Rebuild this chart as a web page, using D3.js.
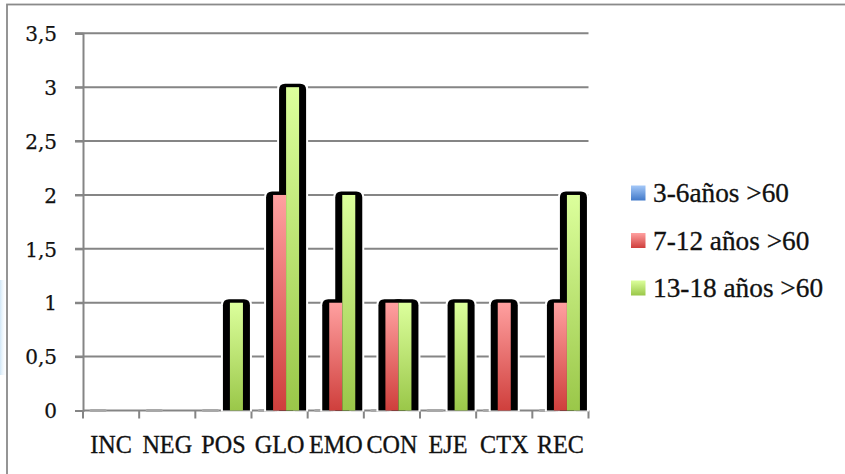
<!DOCTYPE html>
<html>
<head>
<meta charset="utf-8">
<script src="https://cdn.jsdelivr.net/npm/d3@7"></script>
<style>
  html, body { margin: 0; padding: 0; background: #fff; }
  svg { display: block; }
  .serif { font-family: "Liberation Serif", "DejaVu Serif", "Noto Serif", "Tinos", "Times New Roman", serif; }
  .serifwide { font-family: "DejaVu Serif", "Liberation Serif", "Noto Serif", "Tinos", serif; }
</style>
</head>
<body>
<svg id="chart" width="845" height="474"></svg>
<script>
// ---- data ----
const categories = ["INC", "NEG", "POS", "GLO", "EMO", "CON", "EJE", "CTX", "REC"];
const seriesNames = ["3-6años >60", "7-12 años >60", "13-18 años >60"];
const values36 = [0, 0, 0, 0, 0, 0, 0, 0, 0];
const values712 = [null, null, null, 2, 1, 1, null, 1, 1];
const values1318 = [null, null, 1, 3, 2, 1, 1, null, 2];
const yTicks = [0, 0.5, 1, 1.5, 2, 2.5, 3, 3.5];
const yTickLabels = ["0", "0,5", "1", "1,5", "2", "2,5", "3", "3,5"];

const seriesValues = [values36, values712, values1318];
const colors = [
  { top: "#a4c8f8", bottom: "#4179c9" },
  { top: "#ffa0a0", bottom: "#cf3f3c" },
  { top: "#dcff9c", bottom: "#9ac749" }
];

const svg = d3.select("#chart");
const defs = svg.append("defs");
colors.forEach((c, i) => {
  const g = defs.append("linearGradient").attr("id", "grad" + i)
    .attr("x1", 0).attr("y1", 0).attr("x2", 0).attr("y2", 1);
  g.append("stop").attr("offset", "0%").attr("stop-color", c.top);
  g.append("stop").attr("offset", "100%").attr("stop-color", c.bottom);
});
const edge = defs.append("linearGradient").attr("id", "edgeglow")
  .attr("x1", 0).attr("y1", 0).attr("x2", 1).attr("y2", 0);
edge.append("stop").attr("offset", "0%").attr("stop-color", "#cfe6f6");
edge.append("stop").attr("offset", "100%").attr("stop-color", "#ffffff").attr("stop-opacity", 0);

// faint left glow & outer border
svg.append("rect").attr("x", 0).attr("y", 280).attr("width", 7).attr("height", 95)
  .attr("fill", "url(#edgeglow)");
svg.append("rect").attr("x", 7).attr("y", 4.5).attr("width", 860).attr("height", 500)
  .attr("fill", "none").attr("stroke", "#8a8a8a").attr("stroke-width", 1.8);

// ---- scales ----
const x0 = d3.scaleBand().domain(categories).range([83, 588.5]).paddingInner(0).paddingOuter(0);
const groupW = x0.bandwidth() * 0.695;
const x1 = d3.scaleBand().domain(d3.range(3))
  .range([(x0.bandwidth() - groupW) / 2, (x0.bandwidth() + groupW) / 2]);
const y = d3.scaleLinear().domain([0, 3.5]).range([410.5, 33.3]);

const gridColor = "#858585";

// gridlines
svg.append("g").selectAll("line").data(yTicks.filter(d => d > 0)).join("line")
  .attr("x1", 75).attr("x2", 588.5)
  .attr("y1", d => y(d)).attr("y2", d => y(d))
  .attr("stroke", gridColor).attr("stroke-width", 2);

// y axis
const yAxis = d3.axisLeft(y).tickValues(yTicks).tickSize(8)
  .tickFormat((d, i) => yTickLabels[i]);
const gy = svg.append("g").attr("transform", "translate(83,0)").call(yAxis);
gy.attr("font-family", null).attr("font-size", null);
gy.select(".domain").attr("stroke", gridColor).attr("stroke-width", 2);
gy.selectAll(".tick line").attr("stroke", gridColor).attr("stroke-width", 2);
gy.selectAll(".tick text").attr("x", -26).attr("dy", "0.36em")
  .attr("class", "serifwide").attr("font-size", 20).attr("fill", "#111")
  .attr("stroke", "#111").attr("stroke-width", 0.25);

// x axis
const bounds = categories.map(c => x0(c)).concat([x0(categories[categories.length - 1]) + x0.bandwidth()]);
svg.append("line").attr("x1", 83).attr("x2", 588.5).attr("y1", y(0)).attr("y2", y(0))
  .attr("stroke", gridColor).attr("stroke-width", 2);
svg.append("g").selectAll("line").data(bounds).join("line")
  .attr("x1", d => d).attr("x2", d => d).attr("y1", y(0)).attr("y2", y(0) + 8)
  .attr("stroke", gridColor).attr("stroke-width", 2);
svg.append("g").selectAll("text").data(categories).join("text")
  .attr("transform", d => `translate(${x0(d) + x0.bandwidth() / 2},452.5) scale(0.93,1)`)
  .attr("text-anchor", "middle")
  .attr("class", "serif").attr("font-size", 26).attr("fill", "#111")
  .attr("stroke", "#111").attr("stroke-width", 0.35)
  .text(d => d);

// ---- bars ----
const bars = [];
seriesValues.forEach((vals, s) => {
  vals.forEach((v, i) => {
    if (v !== null) bars.push({ cat: categories[i], s, v });
  });
});
const topRounded = (x, yy, w, h, r) =>
  `M${x},${yy + h} V${yy + r} Q${x},${yy} ${x + r},${yy} H${x + w - r} Q${x + w},${yy} ${x + w},${yy + r} V${yy + h} Z`;

const bw = x1.bandwidth();
const nonZero = bars.filter(d => d.v > 0);
const zero = bars.filter(d => d.v === 0);

// zero bars: small grey dash
svg.append("g").selectAll("rect").data(zero).join("rect")
  .attr("x", d => x0(d.cat) + x1(d.s) - 2).attr("y", y(0) - 1.5)
  .attr("width", bw + 4).attr("height", 3).attr("rx", 1.5)
  .attr("fill", "#a8a8a8");

// white halo
svg.append("g").selectAll("path").data(nonZero).join("path")
  .attr("d", d => {
    const x = x0(d.cat) + x1(d.s), t = y(d.v);
    return topRounded(x - 9, t - 5.5, bw + 18, y(0) - t + 6.5, 7);
  })
  .attr("fill", "#fff");
// black outline / shadow
svg.append("g").selectAll("path").data(nonZero).join("path")
  .attr("d", d => {
    const x = x0(d.cat) + x1(d.s), t = y(d.v);
    return topRounded(x - 7, t - 3.5, bw + 14, y(0) - t + 3.5, 6);
  })
  .attr("fill", "#000");
// colored bars
svg.append("g").selectAll("rect").data(nonZero).join("rect")
  .attr("x", d => x0(d.cat) + x1(d.s)).attr("y", d => y(d.v))
  .attr("width", bw).attr("height", d => y(0) - y(d.v))
  .attr("fill", d => `url(#grad${d.s})`);

// ---- legend ----
const legend = svg.append("g").selectAll("g").data(seriesNames).join("g")
  .attr("transform", (d, i) => `translate(631,${193 + i * 47.5})`);
legend.append("rect").attr("x", 0).attr("y", -7.5).attr("width", 14.5).attr("height", 15)
  .attr("fill", (d, i) => `url(#grad${i})`);
legend.append("text").attr("x", 22).attr("y", 9)
  .attr("class", "serif").attr("font-size", 27.3).attr("fill", "#111")
  .attr("stroke", "#111").attr("stroke-width", 0.3)
  .text(d => d);
</script>
</body>
</html>
